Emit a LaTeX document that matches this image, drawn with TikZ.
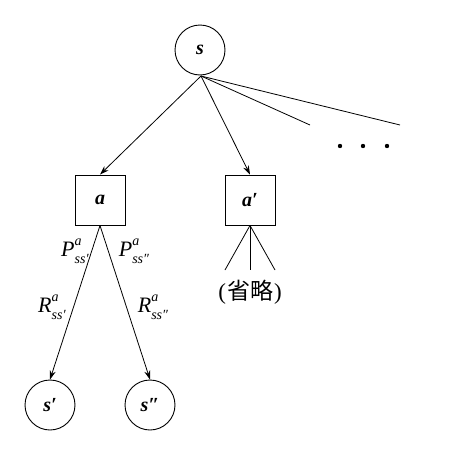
\documentclass[tikz,border=0pt]{standalone}
\usepackage{fontspec}
\setmainfont{Liberation Serif}
\newfontfamily\cjk{Noto Sans CJK JP}
\usetikzlibrary{arrows.meta}
\newcommand{\lab}[3]{\textit{#1}\rlap{\raisebox{0.5em}{\fontsize{14}{14}\selectfont\textit{#2}}}\raisebox{-0.3em}{\fontsize{14}{14}\selectfont\textit{#3}}}
\tikzset{
  x=1pt,y=-1pt,
  st/.style={circle,draw,line width=0.9pt,minimum size=50pt,inner sep=0pt,font=\fontsize{20}{20}\selectfont\bfseries\itshape},
  act/.style={rectangle,draw,line width=0.9pt,minimum size=50pt,inner sep=0pt,font=\fontsize{20}{20}\selectfont\bfseries\itshape},
  arr/.style={-{Stealth[length=9pt,width=6pt]},line width=0.8pt},
  ln/.style={line width=0.8pt},
  lbl/.style={font=\fontsize{22}{22}\selectfont,inner sep=0pt}
}
\begin{document}
\begin{tikzpicture}
\useasboundingbox (0,0) rectangle (450,450);
\node[st] (s) at (200,50) {s};
\node[act] (a) at (100,200) {a};
\node[act] (a2) at (250,200) {a′};
\node[st] (s1) at (50,405) {s′};
\node[st] (s2) at (150,405) {s″};
\coordinate (o) at (201,76);
\coordinate (e1) at (310,125);
\coordinate (e2) at (400,125);
\draw[arr] (o) -- (a.north);
\draw[arr] (o) -- (a2.north);
\draw[ln] (o) -- (e1);
\draw[ln] (o) -- (e2);
\foreach \x [count=\i] in {340,363,387} \fill (\x,146) circle (2.2pt) coordinate (d\i);
\draw[arr] (a.south) -- (s1.north);
\draw[arr] (a.south) -- (s2.north);
\coordinate (b1) at (225,270);
\coordinate (b2) at (250,270);
\coordinate (b3) at (275,270);
\draw[ln] (a2.south) -- (b1);
\draw[ln] (a2.south) -- (b2);
\draw[ln] (a2.south) -- (b3);
\node[lbl,font=\fontsize{23}{23}\selectfont] (om) at (250,292) {(\kern1pt{\cjk 省略}\kern1pt)};
\node[lbl] (p1) at (75,251) {\lab{P}{a}{ss′}};
\node[lbl] (p2) at (134,251) {\lab{P}{a}{ss″}};
\node[lbl] (r1) at (52,307) {\lab{R}{a}{ss′}};
\node[lbl] (r2) at (153,307) {\lab{R}{a}{ss″}};
\end{tikzpicture}
\end{document}
